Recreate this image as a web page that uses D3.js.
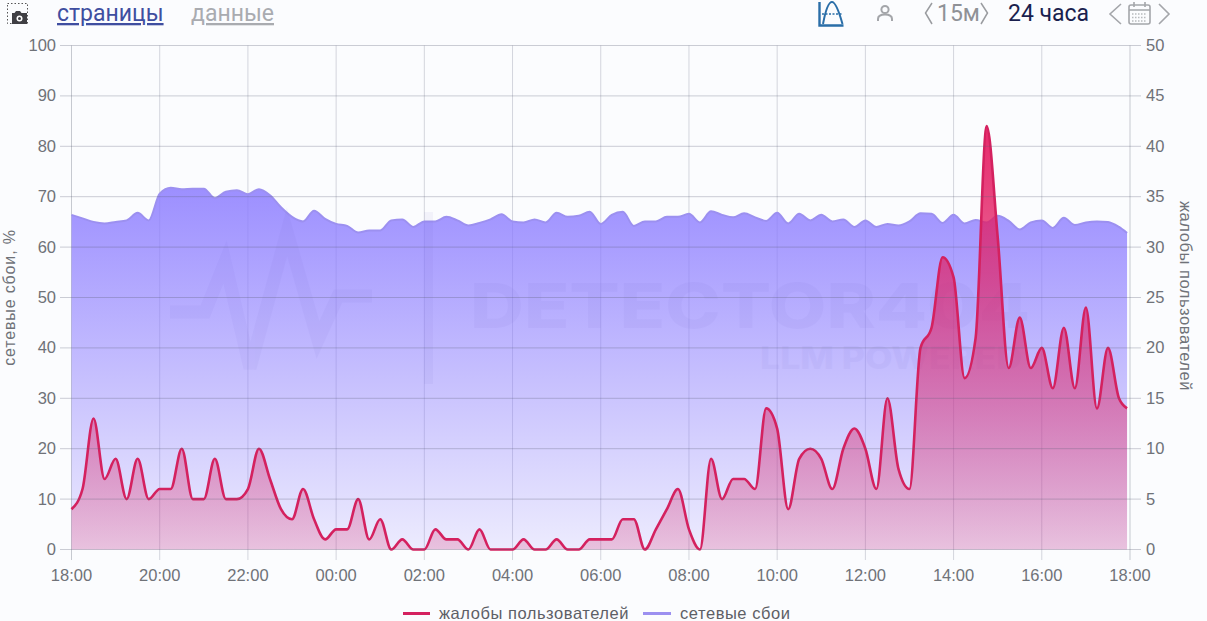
<!DOCTYPE html>
<html><head><meta charset="utf-8">
<script src="https://cdnjs.cloudflare.com/ajax/libs/d3/7.8.5/d3.min.js"></script>
<style>
html,body{margin:0;padding:0;background:#fbfcfe;overflow:hidden}
svg{display:block}
text{font-family:"Liberation Sans",Arial,sans-serif}
.hd text{font-family:Roboto,sans-serif}
</style></head><body><svg id="c" width="1207" height="621"></svg>
<script>
const hourLabels=["18:00","20:00","22:00","00:00","02:00","04:00","06:00","08:00","10:00","12:00","14:00","16:00","18:00"];
const leftTicks=[0,10,20,30,40,50,60,70,80,90,100];
const rightTicks=[0,5,10,15,20,25,30,35,40,45,50];
const complaints=[4,6,13,7,9,5,9,5,6,6,10,5,5,9,5,5,6,10,7,4,3,6,3,1,2,2,5,1,3,0,1,0,0,2,1,1,0,2,0,0,0,1,0,0,1,0,0,1,1,1,3,3,0,2,4,6,2,0,9,5,7,7,6,14,12,4,9,10,9,6,10,12,10,6,15,8,6,20,22,29,27,17,21,42,31,18,23,18,20,16,22,16,24,14,20,15,14];
const failures=[66.4,65.7,65,64.7,65,65.3,66.8,65.3,70.6,71.8,71.5,71.6,71.6,69.7,71,71.3,70.5,71.5,70.3,67.9,66,65.1,67.2,65.6,64.6,64.2,62.9,63.3,63.3,65.3,65.5,64,65.1,65.1,66,65.3,64.3,64.8,65.5,66.5,65.1,64.9,65.5,64.9,66.8,66,66.2,67,64.6,66.4,67,64.2,65.1,65.1,66,66,66.6,64.9,67.1,66.4,65.9,66.7,65.9,65.2,66.8,64.7,66.6,65.3,66.4,65.1,65.5,64,65.3,64,64.6,64.3,65.1,66.7,66.6,64.8,66.4,64.7,65.4,64.9,66.2,65.2,63.5,64.9,65.3,63.8,65.8,64.4,64.9,65.1,65,64,62.8];
const legendNames=["жалобы пользователей","сетевые сбои"];
const stepMinutes=15, lastMinute=1436;

const svg=d3.select("#c");
const x=d3.scaleLinear().domain([0,1440]).range([71.5,1130]);
const yL=d3.scaleLinear().domain([0,100]).range([549.5,45.5]);
const yR=d3.scaleLinear().domain([0,50]).range([549.5,45.5]);
const tickMinutes=hourLabels.map((_,i)=>i*120);
const tickTxt="#6f7278";

const defs=svg.append("defs");
const g1=defs.append("linearGradient").attr("id","gf").attr("gradientUnits","userSpaceOnUse").attr("x1",0).attr("x2",0).attr("y1",190).attr("y2",549.5);
g1.append("stop").attr("offset",0).attr("stop-color","#8b7bff").attr("stop-opacity",.84);
g1.append("stop").attr("offset",1).attr("stop-color","#8b7bff").attr("stop-opacity",.13);
const g2=defs.append("linearGradient").attr("id","gc").attr("gradientUnits","userSpaceOnUse").attr("x1",0).attr("x2",0).attr("y1",126).attr("y2",549.5);
g2.append("stop").attr("offset",0).attr("stop-color","#e61e64").attr("stop-opacity",.95);
g2.append("stop").attr("offset",1).attr("stop-color","#d81b60").attr("stop-opacity",.2);

// vertical grid sits under the translucent areas
svg.append("g").selectAll("line").data(tickMinutes).join("line")
 .attr("x1",d=>x(d)).attr("x2",d=>x(d)).attr("y1",45.5).attr("y2",560)
 .attr("stroke",(d,i)=>(i==0||i==12)?"#c6c9d0":"#d3d5dd").attr("stroke-width",1);

// series
const xi=(d,i)=>x(Math.min(i*stepMinutes,lastMinute));
const failArea=d3.area().x(xi).y0(yL(0)).y1(d=>yL(d)).curve(d3.curveMonotoneX);
const failLine=d3.line().x(xi).y(d=>yL(d)).curve(d3.curveMonotoneX);
const compArea=d3.area().x(xi).y0(yR(0)).y1(d=>yR(d)).curve(d3.curveMonotoneX);
const compLine=d3.line().x(xi).y(d=>yR(d)).curve(d3.curveMonotoneX);
svg.append("path").attr("d",failArea(failures)).attr("fill","url(#gf)");
svg.append("path").attr("d",failLine(failures)).attr("fill","none").attr("stroke","#9c90f0").attr("stroke-width",2);

// watermark
const wm=svg.append("g").attr("fill","#6a5cc8").attr("opacity",.055);
wm.append("path").attr("d","M170 312H205L225 262L250 368L287 232L318 340L338 296H372").attr("fill","none").attr("stroke","#6a5cc8").attr("stroke-width",13);
wm.append("rect").attr("x",424).attr("y",212).attr("width",9).attr("height",172);
wm.append("text").attr("x",470).attr("y",328).attr("font-size",62).attr("font-weight",800).attr("textLength",560).attr("lengthAdjust","spacingAndGlyphs").style("font-family","Inter").text("DETECTOR404");
wm.append("text").attr("x",760).attr("y",369).attr("font-size",31).attr("font-weight",800).attr("textLength",262).attr("lengthAdjust","spacingAndGlyphs").style("font-family","Inter").text("LLM POWERED");

svg.append("path").attr("d",compArea(complaints)).attr("fill","url(#gc)");
svg.append("path").attr("d",compLine(complaints)).attr("fill","none").attr("stroke","#d4215f").attr("stroke-width",2.6);

// horizontal grid above the areas
svg.append("g").selectAll("line").data(leftTicks).join("line")
 .attr("x1",60).attr("x2",1141).attr("y1",d=>yL(d)).attr("y2",d=>yL(d))
 .attr("stroke","rgba(90,92,115,.3)").attr("stroke-width",1);

// tick labels
const tf=svg.append("g").attr("fill",tickTxt).attr("font-size",16.5);
tf.selectAll(".b").data(hourLabels).join("text").attr("x",(d,i)=>x(tickMinutes[i])).attr("y",581).attr("text-anchor","middle").text(d=>d);
tf.selectAll(".l").data(leftTicks).join("text").attr("x",56).attr("y",d=>yL(d)+5.5).attr("text-anchor","end").text(d=>d);
tf.selectAll(".r").data(rightTicks).join("text").attr("x",1146).attr("y",d=>yR(d)+5.5).text(d=>d);
svg.append("text").attr("transform","translate(15,297.5) rotate(-90)").attr("text-anchor","middle").attr("font-size",16).attr("letter-spacing",.85).attr("fill",tickTxt).text("сетевые сбои, %");
svg.append("text").attr("transform","translate(1180,296) rotate(90)").attr("text-anchor","middle").attr("font-size",16.5).attr("letter-spacing",.55).attr("fill",tickTxt).text("жалобы пользователей");

// legend
const lg=svg.append("g").attr("font-size",16.5).attr("letter-spacing",.55).attr("fill","#5e6066");
lg.append("line").attr("x1",403).attr("x2",430).attr("y1",613.5).attr("y2",613.5).attr("stroke","#d4215f").attr("stroke-width",3);
lg.append("text").attr("x",439).attr("y",619).text(legendNames[0]);
lg.append("line").attr("x1",643).attr("x2",671).attr("y1",613.5).attr("y2",613.5).attr("stroke","#9c90f0").attr("stroke-width",3);
lg.append("text").attr("x",680).attr("y",619).text(legendNames[1]);

// header
const hd=svg.append("g").attr("class","hd");
hd.append("text").attr("x",57).attr("y",21).attr("font-size",23).attr("fill","#3f4ea0").attr("text-decoration","underline").text("страницы");
hd.append("text").attr("x",191).attr("y",21).attr("font-size",23).attr("fill","#a9abb0").attr("text-decoration","underline").text("данные");
hd.append("text").attr("x",937).attr("y",21).attr("font-size",23).attr("fill","#8f9196").text("15м");
hd.append("path").attr("d","M932 3L925.5 13L932 24M981 3L987.5 13L981 24").attr("fill","none").attr("stroke","#9a9ca0").attr("stroke-width",1.5);
hd.append("text").attr("x",1008).attr("y",21).attr("font-size",23).attr("fill","#1a1f4e").text("24 часа");
// screenshot icon
hd.append("rect").attr("x",7.5).attr("y",3.5).attr("width",20).attr("height",20).attr("fill","none").attr("stroke","#555").attr("stroke-dasharray","1.5 2");
hd.append("path").attr("d","M12 13h2.5l1.5-2h4l1.5 2H27v11H12z").attr("fill","#3f3f44");
hd.append("circle").attr("cx",19.5).attr("cy",18.5).attr("r",3).attr("fill","#fff");
hd.append("circle").attr("cx",19.5).attr("cy",18.5).attr("r",1.5).attr("fill","#3f3f44");
// chart icon
hd.append("path").attr("d","M819.5 2V25.5H843.5").attr("fill","none").attr("stroke","#2a6ea8").attr("stroke-width",2.4);
hd.append("path").attr("d","M823 24C826 8 829 2 832 2C835 2 838 8 842.5 24").attr("fill","none").attr("stroke","#2a6ea8").attr("stroke-width",2);
hd.append("path").attr("d","M822 14H842").attr("stroke","#2a6ea8").attr("stroke-width",1.6).attr("stroke-dasharray","2 1.5");
// user icon
hd.append("circle").attr("cx",885).attr("cy",9.5).attr("r",3.6).attr("fill","none").attr("stroke","#a4a6aa").attr("stroke-width",2);
hd.append("path").attr("d","M878 21v-2c0-3 3-4.5 7-4.5s7 1.5 7 4.5v2").attr("fill","none").attr("stroke","#a4a6aa").attr("stroke-width",2);
// calendar
hd.append("path").attr("d","M1121 4L1110 14L1121 24M1159 4L1169 14L1159 24").attr("fill","none").attr("stroke","#a4a6aa").attr("stroke-width",1.6);
hd.append("rect").attr("x",1129).attr("y",5).attr("width",21).attr("height",19).attr("rx",2).attr("fill","none").attr("stroke","#a4a6aa").attr("stroke-width",1.6);
hd.append("path").attr("d","M1129 10H1150M1134 2V7M1145 2V7").attr("stroke","#a4a6aa").attr("stroke-width",1.6);
hd.append("path").attr("d","M1132 14H1147M1132 17.5H1147M1132 21H1147").attr("stroke","#b8babd").attr("stroke-width",1.3).attr("stroke-dasharray","1.5 1.5");
</script></body></html>
